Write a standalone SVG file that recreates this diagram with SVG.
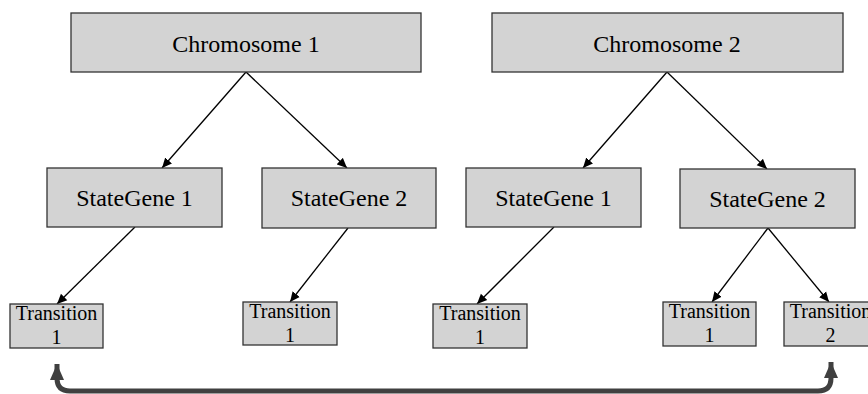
<svg xmlns="http://www.w3.org/2000/svg" width="868" height="394" viewBox="0 0 868 394">
<style>
.box{fill:#d3d3d3;stroke:#333;stroke-width:1.3}
.t{font-family:"Liberation Serif","Times New Roman",serif;font-size:24px;fill:#000;text-anchor:middle}
.s{font-family:"Liberation Serif","Times New Roman",serif;font-size:20px;fill:#000;text-anchor:middle}
.e{stroke:#000;stroke-width:1.3;fill:none;marker-end:url(#ah)}
.big{stroke:#404040;stroke-width:5;fill:none;marker-start:url(#bh);marker-end:url(#bh)}
</style>
<defs>
<marker id="ah" viewBox="0 0 10 10" refX="10" refY="5" markerWidth="10" markerHeight="10" markerUnits="userSpaceOnUse" orient="auto">
<path d="M0,0.5 L10,5 L0,9.5 Z" fill="#000"/>
</marker>
<marker id="bh" viewBox="0 0 16 14" refX="16" refY="7" markerWidth="16" markerHeight="14" markerUnits="userSpaceOnUse" orient="auto-start-reverse">
<path d="M0,0 L16,7 L0,14 Z" fill="#404040"/>
</marker>
</defs>
<g id="connectors">
<line class="e" x1="246" y1="72" x2="162" y2="168"/>
<line class="e" x1="246" y1="72" x2="347" y2="168"/>
<line class="e" x1="667" y1="72" x2="583" y2="168"/>
<line class="e" x1="667" y1="72" x2="767" y2="169"/>
<line class="e" x1="135" y1="227" x2="57" y2="304"/>
<line class="e" x1="348" y1="228" x2="290" y2="302"/>
<line class="e" x1="554" y1="227" x2="477" y2="304"/>
<line class="e" x1="768" y1="228" x2="712" y2="302"/>
<line class="e" x1="768" y1="228" x2="829" y2="302"/>
<path class="big" d="M57,364 L57,378 Q57,391 70,391 L818,391 Q831,391 831,378 L831,362"/>
</g>
<g id="chromosome1"><rect class="box" x="71" y="13" width="350" height="59"/><text class="t" x="246" y="52">Chromosome 1</text></g>
<g id="chromosome2"><rect class="box" x="492" y="13" width="351" height="59"/><text class="t" x="667" y="52">Chromosome 2</text></g>
<g id="c1-stategene1"><rect class="box" x="47" y="168" width="175" height="59"/><text class="t" x="134.5" y="206">StateGene 1</text></g>
<g id="c1-stategene2"><rect class="box" x="262" y="168" width="174" height="60"/><text class="t" x="349" y="206">StateGene 2</text></g>
<g id="c2-stategene1"><rect class="box" x="466" y="168" width="175" height="59"/><text class="t" x="553.5" y="206">StateGene 1</text></g>
<g id="c2-stategene2"><rect class="box" x="680" y="169" width="175" height="59"/><text class="t" x="767.5" y="207">StateGene 2</text></g>
<g id="c1-sg1-transition1"><rect class="box" x="10" y="304" width="93" height="44"/><text class="s" x="56.5" y="320">Transition</text><text class="s" x="56.5" y="344">1</text></g>
<g id="c1-sg2-transition1"><rect class="box" x="243" y="302" width="94" height="43"/><text class="s" x="290" y="318">Transition</text><text class="s" x="290" y="342">1</text></g>
<g id="c2-sg1-transition1"><rect class="box" x="433" y="304" width="94" height="44"/><text class="s" x="480" y="320">Transition</text><text class="s" x="480" y="344">1</text></g>
<g id="c2-sg2-transition1"><rect class="box" x="663" y="302" width="93" height="44"/><text class="s" x="709.5" y="318">Transition</text><text class="s" x="709.5" y="342">1</text></g>
<g id="c2-sg2-transition2"><rect class="box" x="784" y="302" width="93" height="44"/><text class="s" x="830.5" y="318">Transition</text><text class="s" x="830.5" y="342">2</text></g>
</svg>
